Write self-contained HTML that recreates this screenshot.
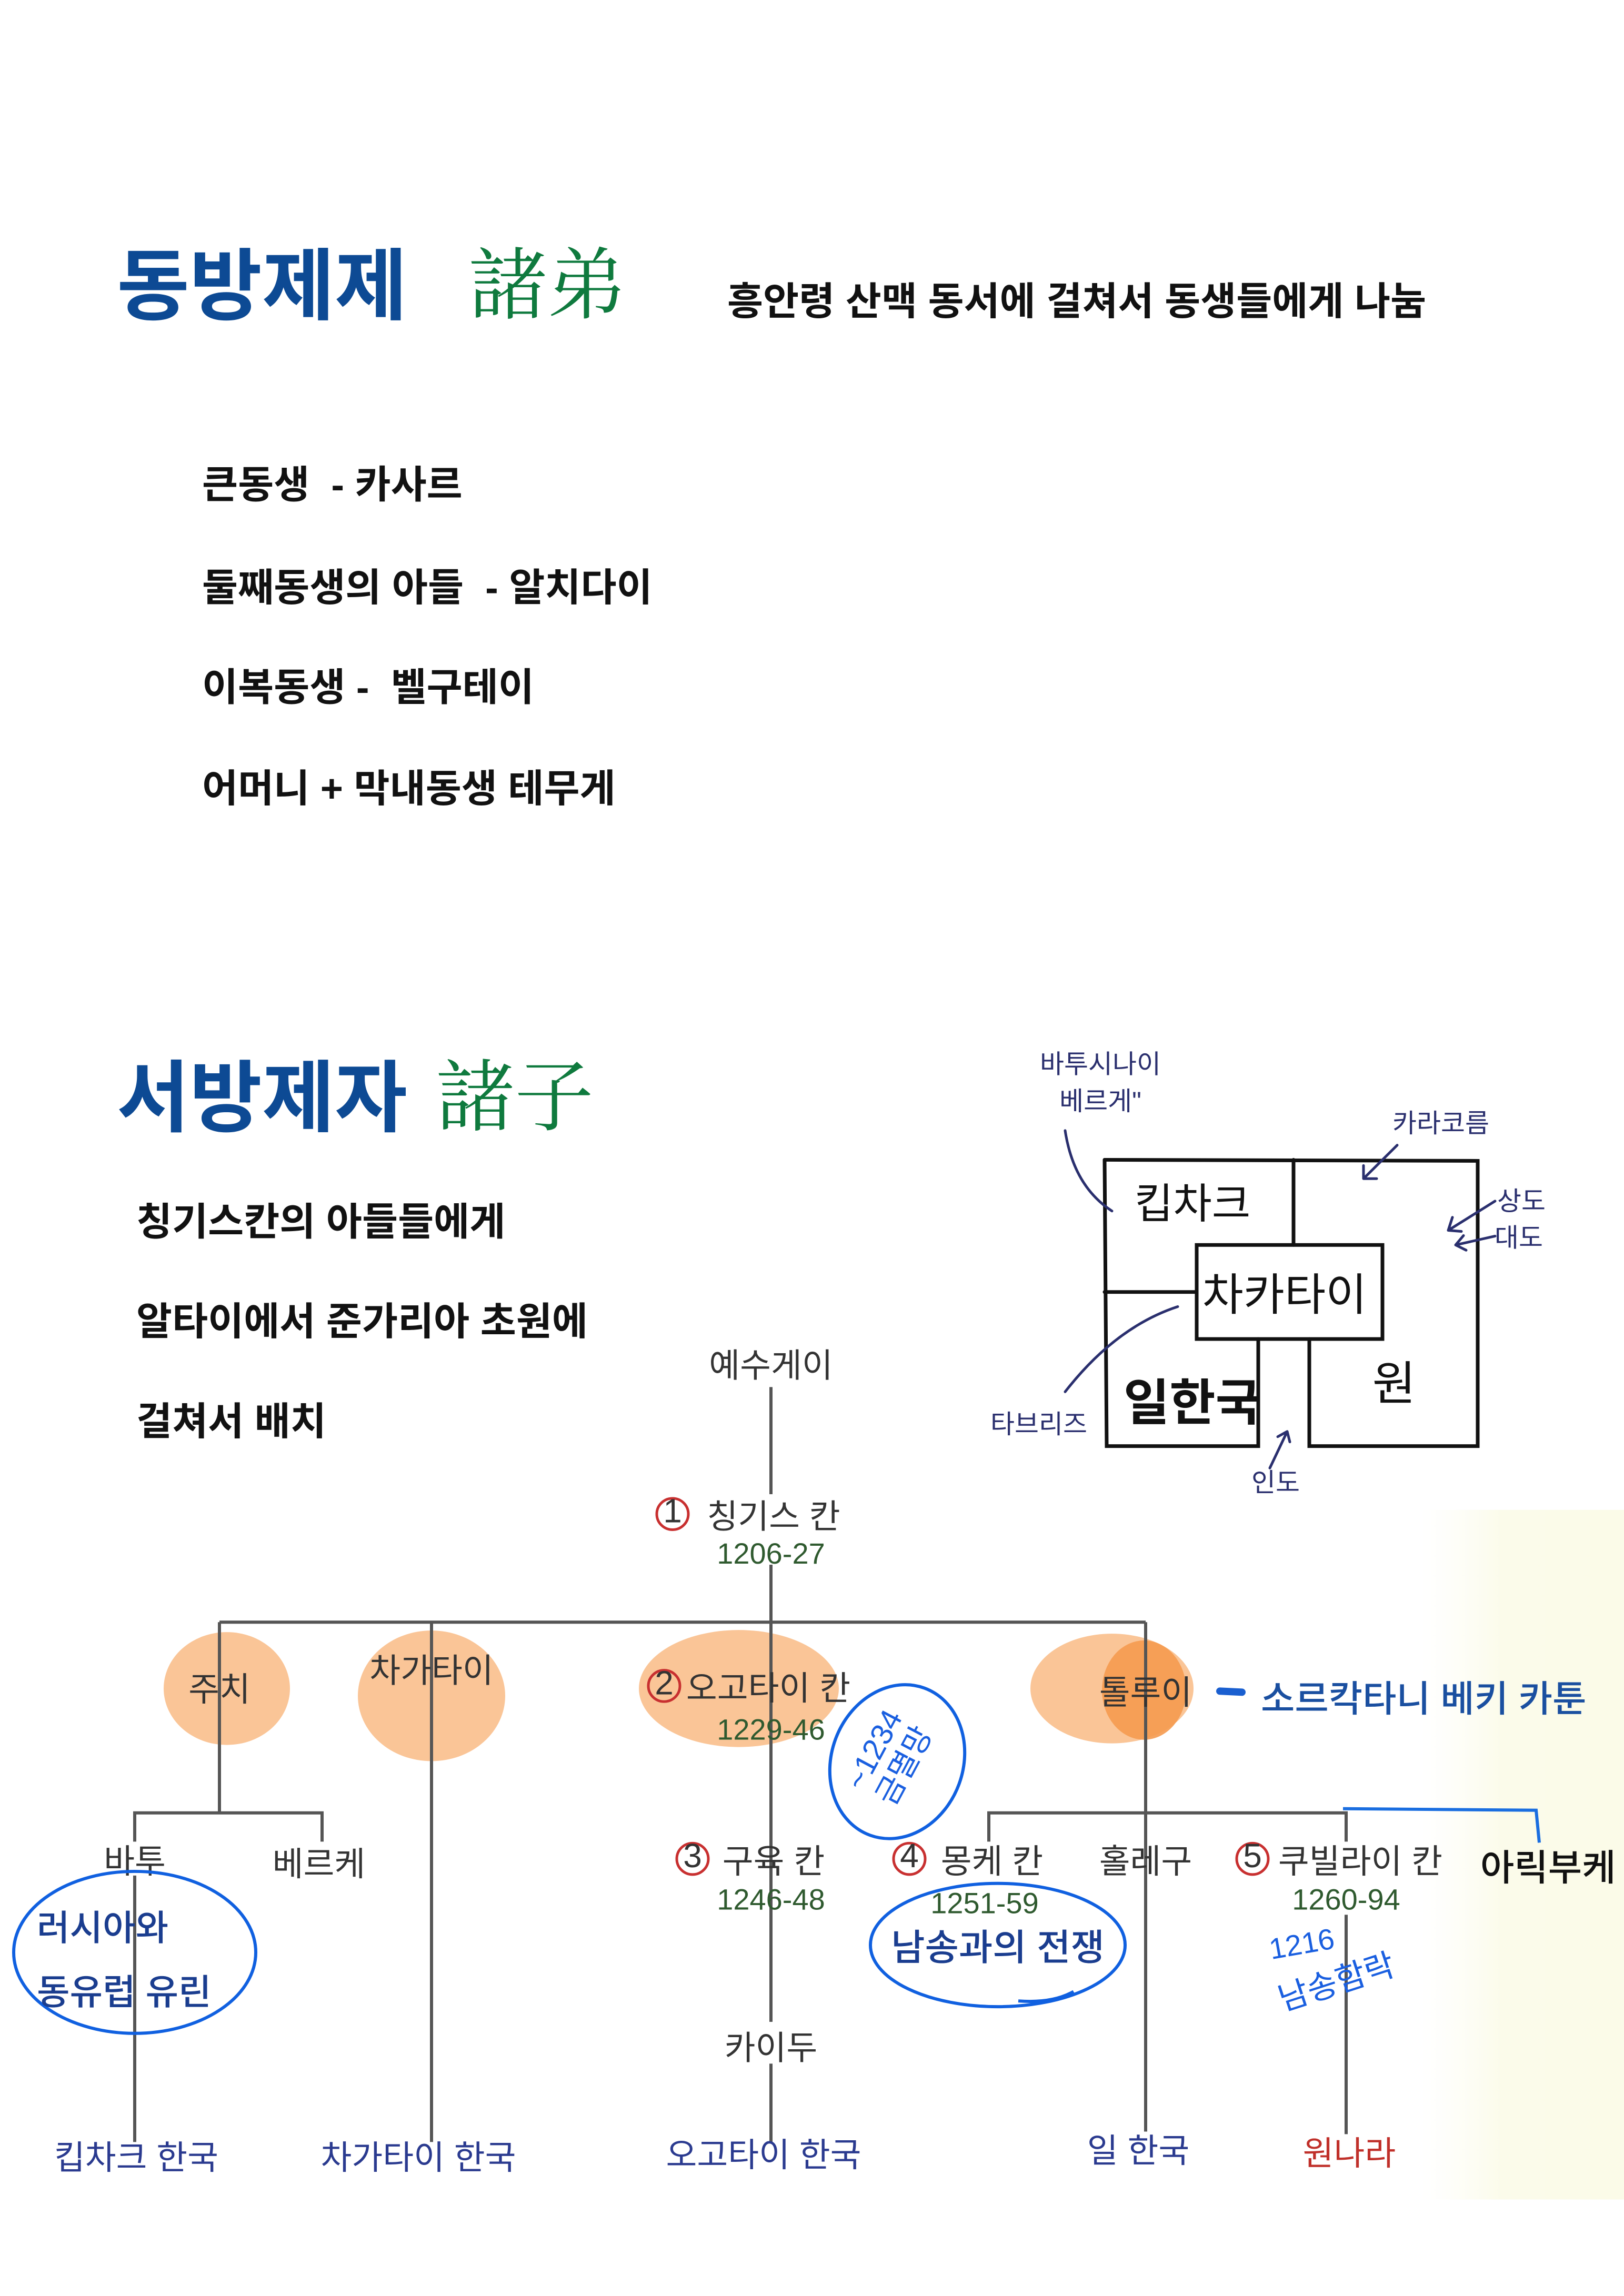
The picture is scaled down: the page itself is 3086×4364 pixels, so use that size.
<!DOCTYPE html>
<html><head><meta charset="utf-8"><style>
html,body{margin:0;padding:0;background:#fff;}
svg{display:block;}
.b{font-family:"Liberation Sans","Noto Sans CJK KR",sans-serif;font-weight:bold;}
.t{font-family:"Liberation Sans","Noto Sans CJK KR",sans-serif;fill:#333;font-size:64px;text-anchor:middle;}
.g{font-family:"Liberation Sans","Noto Sans CJK KR",sans-serif;fill:#2f5a2f;font-size:56px;text-anchor:middle;}
.h{font-family:"Liberation Sans","Noto Sans CJK KR",sans-serif;fill:#2a2f6e;font-size:50px;text-anchor:middle;}
.m{font-family:"Liberation Sans","Noto Sans CJK KR",sans-serif;fill:#111;text-anchor:middle;}
</style></head><body>
<svg width="3086" height="4364" viewBox="0 0 3086 4364" xmlns="http://www.w3.org/2000/svg">
<defs><linearGradient id="yg" x1="0" x2="1" y1="0" y2="0"><stop offset="0" stop-color="#fdfdf3" stop-opacity="0"/><stop offset="0.4" stop-color="#fbfbea"/><stop offset="1" stop-color="#fbfbe8"/></linearGradient></defs>
<rect width="3086" height="4364" fill="#fff"/>
<g transform="scale(1,0.993)">
<rect x="2700" y="2890" width="386" height="1320" fill="url(#yg)"/>
<!-- top -->
<text x="222" y="600" class="b" font-size="150" fill="#0d4a94">동방제제</text>
<text x="890" y="598" font-family="'Noto Serif CJK SC',serif" font-size="150" fill="#0f7a3e">諸弟</text>
<text x="1382" y="602" class="b" font-size="74" fill="#111">흥안령 산맥 동서에 걸쳐서 동생들에게 나눔</text>
<text x="384" y="953" class="b" font-size="74" fill="#111" xml:space="preserve">큰동생  - 카사르</text>
<text x="384" y="1150" class="b" font-size="74" fill="#111" xml:space="preserve">둘째동생의 아들  - 알치다이</text>
<text x="384" y="1341" class="b" font-size="74" fill="#111" xml:space="preserve">이복동생 -  벨구테이</text>
<text x="384" y="1535" class="b" font-size="74" fill="#111">어머니 + 막내동생 테무게</text>
<text x="222" y="2154" class="b" font-size="150" fill="#0d4a94">서방제자</text>
<text x="828" y="2152" font-family="'Noto Serif CJK SC',serif" font-size="150" fill="#0f7a3e">諸子</text>
<text x="259" y="2364" class="b" font-size="74" fill="#111">칭기스칸의 아들들에게</text>
<text x="259" y="2555" class="b" font-size="74" fill="#111">알타이에서 준가리아 초원에</text>
<text x="259" y="2746" class="b" font-size="74" fill="#111">걸쳐서 배치</text>

<!-- map -->
<g stroke="#111" stroke-width="7" fill="none" stroke-linecap="round">
<path d="M2099 2220 L2808 2222 L2808 2768 L2488 2768 L2488 2563"/>
<path d="M2099 2220 L2103 2768 L2391 2768 L2391 2563"/>
<path d="M2458 2220 L2458 2383"/>
<rect x="2274" y="2383" width="353" height="180"/>
<path d="M2099 2473 L2274 2473"/>
</g>
<text x="2266" y="2332" class="m" font-size="80">킵차크</text>
<text x="2441" y="2508" class="m" font-size="85">차카타이</text>
<text x="2266" y="2718" class="m" font-size="95" font-weight="bold">일한국</text>
<text x="2649" y="2680" class="m" font-size="90">원</text>
<g stroke="#2a2f6e" stroke-width="5" fill="none" stroke-linecap="round">
<path d="M2024 2164 Q2040 2270 2113 2318"/>
<path d="M2655 2192 L2591 2256 M2591 2256 l0 -25 M2591 2256 l25 0"/>
<path d="M2841 2299 L2752 2355 M2752 2355 l8 -25 M2752 2355 l25 2"/>
<path d="M2841 2366 L2766 2383 M2766 2383 l15 -18 M2766 2383 l20 10"/>
<path d="M2024 2664 Q2120 2540 2238 2501"/>
<path d="M2413 2810 L2446 2740 M2446 2740 l-18 10 M2446 2740 l5 20"/>
</g>
<text x="2091" y="2054" class="h">바투시나이</text>
<text x="2091" y="2125" class="h">베르게"</text>
<text x="2738" y="2167" class="h">카라코름</text>
<text x="2891" y="2316" class="h">상도</text>
<text x="2886" y="2386" class="h">대도</text>
<text x="1974" y="2743" class="h">타브리즈</text>
<text x="2424" y="2855" class="h">인도</text>

<!-- blobs -->
<g fill="#f9bf8c" opacity="0.9">
<ellipse cx="431" cy="3232" rx="120" ry="108"/>
<ellipse cx="820" cy="3246" rx="140" ry="125"/>
<ellipse cx="1404" cy="3232" rx="190" ry="112"/>
<ellipse cx="2113" cy="3232" rx="155" ry="105"/>
</g>
<ellipse cx="2174" cy="3235" rx="80" ry="95" fill="#f59a4f" opacity="0.9"/>

<!-- tree lines -->
<g stroke="#555" stroke-width="6" fill="none">
<path d="M1465 2655 L1465 2860"/>
<path d="M1465 2995 L1465 3105"/>
<path d="M417 3105 L2177 3105"/>
<path d="M417 3105 L417 3470"/>
<path d="M820 3105 L820 4100"/>
<path d="M1465 3105 L1465 4100"/>
<path d="M2177 3105 L2177 4080"/>
<path d="M256 3525 L256 3470 L612 3470 L612 3525"/>
<path d="M256 3590 L256 4100"/>
<path d="M1879 3525 L1879 3470 L2558 3470 L2558 3525"/>
<path d="M2558 3665 L2558 4085"/>
</g>
<!-- tree labels -->
<g>
<rect x="1330" y="2580" width="270" height="70" fill="#fff"/>
<text x="1465" y="2636" class="t">예수게이</text>
<circle cx="1278" cy="2898" r="30" fill="none" stroke="#c83030" stroke-width="5"/>
<text x="1278" y="2914" class="t" font-size="44">1</text>
<text x="1470" y="2925" class="t">칭기스 칸</text>
<text x="1465" y="2993" class="g">1206-27</text>
<text x="417" y="3256" class="t">주치</text>
<text x="820" y="3220" class="t">차가타이</text>
<circle cx="1262" cy="3227" r="30" fill="none" stroke="#c83030" stroke-width="5"/>
<text x="1262" y="3243" class="t" font-size="44">2</text>
<text x="1460" y="3254" class="t">오고타이 칸</text>
<text x="1465" y="3330" class="g">1229-46</text>
<text x="2177" y="3262" class="t">톨루이</text>
<text x="256" y="3585" class="t">바투</text>
<text x="606" y="3590" class="t">베르케</text>
<circle cx="1316" cy="3558" r="30" fill="none" stroke="#c83030" stroke-width="5"/>
<text x="1316" y="3574" class="t" font-size="44">3</text>
<text x="1470" y="3585" class="t">구육 칸</text>
<text x="1465" y="3655" class="g">1246-48</text>
<rect x="1370" y="3870" width="190" height="80" fill="#fff"/>
<text x="1465" y="3942" class="t">카이두</text>
<circle cx="1728" cy="3558" r="30" fill="none" stroke="#c83030" stroke-width="5"/>
<text x="1728" y="3574" class="t" font-size="44">4</text>
<text x="1885" y="3585" class="t">몽케 칸</text>
<text x="1871" y="3662" class="g">1251-59</text>
<text x="2177" y="3585" class="t">홀레구</text>
<circle cx="2380" cy="3558" r="30" fill="none" stroke="#c83030" stroke-width="5"/>
<text x="2380" y="3574" class="t" font-size="44">5</text>
<text x="2585" y="3585" class="t">쿠빌라이 칸</text>
<text x="2558" y="3655" class="g">1260-94</text>
<text x="259" y="4152" class="t" style="fill:#2a3a8f">킵차크 한국</text>
<text x="795" y="4152" class="t" style="fill:#2a3a8f">차가타이 한국</text>
<text x="1451" y="4147" class="t" style="fill:#2a3a8f">오고타이 한국</text>
<text x="2163" y="4139" class="t" style="fill:#2a3a8f">일 한국</text>
<text x="2564" y="4144" class="t" style="fill:#c0302a">원나라</text>
</g>

<!-- annotations -->
<path d="M2318 3237 L2360 3239" stroke="#1a5fd0" stroke-width="14" stroke-linecap="round"/>
<text x="2396" y="3276" font-family="'Liberation Sans','Noto Sans CJK KR',sans-serif" font-size="70" font-weight="500" fill="#1a4fa0">소르칵타니 베키 카툰</text>
<text x="2813" y="3599" font-family="'Liberation Sans','Noto Sans CJK KR',sans-serif" font-size="70" font-weight="500" fill="#111">아릭부케</text>
<path d="M2552 3462 L2919 3465 L2925 3527" stroke="#1a6ee0" stroke-width="6" fill="none"/>
<ellipse cx="256" cy="3737" rx="230" ry="155" fill="none" stroke="#1060e0" stroke-width="6"/>
<text x="70" y="3714" font-family="'Liberation Sans','Noto Sans CJK KR',sans-serif" font-size="68" font-weight="500" fill="#1a3d8f">러시아와</text>
<text x="70" y="3837" font-family="'Liberation Sans','Noto Sans CJK KR',sans-serif" font-size="68" font-weight="500" fill="#1a3d8f">동유럽 유린</text>
<ellipse cx="1705" cy="3372" rx="150" ry="125" transform="rotate(-70 1705 3372)" fill="none" stroke="#1060e0" stroke-width="6"/>
<g transform="rotate(-62 1700 3370)" font-family="'Liberation Sans','Noto Sans CJK KR',sans-serif" fill="#1a5fe0" text-anchor="middle">
<text x="1700" y="3345" font-size="58">~1234</text>
<text x="1700" y="3410" font-size="58">금멸망</text>
</g>
<ellipse cx="1896" cy="3723" rx="242" ry="118" fill="none" stroke="#1060e0" stroke-width="6"/>
<path d="M1935 3830 Q2000 3835 2040 3812" stroke="#1060e0" stroke-width="6" fill="none"/>
<text x="1896" y="3752" text-anchor="middle" font-family="'Liberation Sans','Noto Sans CJK KR',sans-serif" font-size="70" font-weight="500" fill="#1a3d8f">남송과의 전쟁</text>
<text x="2474" y="3740" text-anchor="middle" transform="rotate(-10 2474 3723)" font-family="'Liberation Sans','Noto Sans CJK KR',sans-serif" font-size="56" fill="#1a5fe0">1216</text>
<text x="2540" y="3815" text-anchor="middle" transform="rotate(-18 2540 3795)" font-family="'Liberation Sans','Noto Sans CJK KR',sans-serif" font-size="62" fill="#1a5fe0">남송함락</text>
</g>
</svg>
</body></html>
